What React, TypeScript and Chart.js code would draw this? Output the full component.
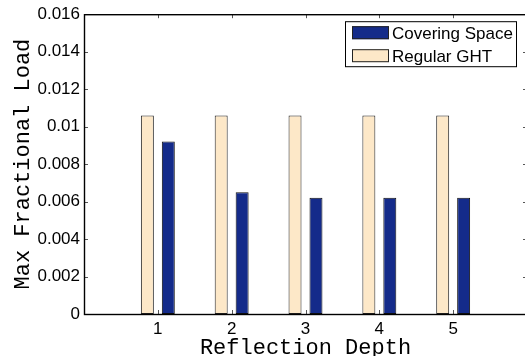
import React, { useEffect, useRef } from 'react';
import { Chart, registerables } from 'chart.js';

Chart.register(...registerables);

const categories = ['1', '2', '3', '4', '5'];
const regularGHT = [0.0106, 0.0106, 0.0106, 0.0106, 0.0106];
const coveringSpace = [0.0092, 0.0065, 0.0062, 0.0062, 0.0062];
const yTicks = [0, 0.002, 0.004, 0.006, 0.008, 0.01, 0.012, 0.014, 0.016];
const yTickLabels = ['0', '0.002', '0.004', '0.006', '0.008', '0.01', '0.012', '0.014', '0.016'];
const seriesNames = ['Regular GHT', 'Covering Space'];
const seriesColors = ['#FDE8C8', '#142B8A'];
const xTitle = 'Reflection Depth';
const yTitle = 'Max Fractional Load';

const tickFont = { family: '"Liberation Sans", Arial, sans-serif', size: 17 };
const titleFont = { family: '"Liberation Mono", "Courier New", monospace', size: 22 };

const framePlugin = {
  id: 'matlabFrame',
  afterDraw(chart: any) {
    const { ctx, chartArea: a, scales } = chart;
    ctx.save();
    const line = (x1: number, y1: number, x2: number, y2: number) => {
      ctx.beginPath();
      ctx.moveTo(x1, y1);
      ctx.lineTo(x2, y2);
      ctx.stroke();
    };
    // inward ticks
    ctx.strokeStyle = '#555';
    ctx.lineWidth = 1;
    const tl = 4;
    categories.forEach((_c, i) => {
      const x = Math.round(scales.x.getPixelForValue(i + 1)) + 0.5;
      line(x, a.bottom, x, a.bottom - tl);
      line(x, a.top, x, a.top + tl);
    });
    yTicks.forEach((v) => {
      const y = Math.round(scales.y.getPixelForValue(v)) + 0.5;
      line(a.left, y, a.left + tl, y);
      line(a.right, y, a.right - tl, y);
    });
    // axes box
    ctx.strokeStyle = '#000';
    ctx.lineWidth = 1.4;
    ctx.strokeRect(a.left + 0.5, a.top + 0.5, a.right - a.left, a.bottom - a.top);

    // legend
    ctx.lineWidth = 1;
    const lx = a.right - 182;
    const ly = a.top + 7;
    const lw = 171;
    const lh = 45;
    ctx.fillStyle = '#fff';
    ctx.fillRect(lx, ly, lw, lh);
    ctx.strokeStyle = '#000';
    ctx.strokeRect(lx + 0.5, ly + 0.5, lw, lh);
    const items = [
      { label: seriesNames[1], color: seriesColors[1] },
      { label: seriesNames[0], color: seriesColors[0] },
    ];
    ctx.font = `${tickFont.size}px ${tickFont.family}`;
    ctx.textBaseline = 'alphabetic';
    ctx.textAlign = 'left';
    items.forEach((it, i) => {
      const py = ly + 5 + i * 23;
      ctx.fillStyle = it.color;
      ctx.fillRect(lx + 7, py, 37, 13);
      ctx.strokeStyle = '#222';
      ctx.strokeRect(lx + 7.5, py + 0.5, 36, 12);
      ctx.fillStyle = '#000';
      ctx.fillText(it.label, lx + 47, py + 13);
    });
    ctx.restore();
  },
};

export default function App() {
  const ref = useRef<HTMLCanvasElement>(null);
  useEffect(() => {
    const chart = new Chart(ref.current as HTMLCanvasElement, {
      type: 'bar',
      data: {
        labels: ['', ...categories, ''],
        datasets: [
          {
            label: seriesNames[0],
            data: [null, ...regularGHT, null],
            backgroundColor: seriesColors[0],
            borderColor: '#222',
            borderWidth: 1,
            borderSkipped: false,
          },
          {
            label: seriesNames[1],
            data: [null, ...coveringSpace, null],
            backgroundColor: seriesColors[1],
            borderColor: '#111',
            borderWidth: 1,
            borderSkipped: false,
          },
        ],
      },
      options: {
        responsive: false,
        animation: false,
        devicePixelRatio: 1,
        categoryPercentage: 42 / 74,
        barPercentage: 13 / 21,
        layout: { padding: { top: 14, right: 4, bottom: 0, left: 0 } },
        plugins: {
          legend: { display: false },
          tooltip: { enabled: false },
        },
        scales: {
          x: {
            type: 'category',
            offset: false,
            grid: { display: false, drawTicks: false },
            border: { display: false },
            ticks: { font: tickFont, color: '#000', padding: 5, maxRotation: 0, autoSkip: false },
            title: {
              display: true,
              text: xTitle,
              font: titleFont,
              color: '#000',
              padding: { top: 0, bottom: -5 },
            },
            afterFit: (s: any) => {
              s.height = 42;
            },
          },
          y: {
            min: 0,
            max: 0.016,
            afterBuildTicks: (s: any) => {
              s.ticks = yTicks.map((v) => ({ value: v }));
            },
            grid: { display: false, drawTicks: false },
            border: { display: false },
            ticks: {
              font: tickFont,
              color: '#000',
              padding: 4,
              callback: (_v: any, i: number) => yTickLabels[i],
            },
            title: {
              display: true,
              text: yTitle,
              font: titleFont,
              color: '#000',
              padding: { top: 10, bottom: 0 },
            },
            afterFit: (s: any) => {
              s.width = 84;
            },
          },
        },
      },
      plugins: [framePlugin],
    } as any);
    return () => chart.destroy();
  }, []);
  return (
    <div
      style={{
        position: 'absolute',
        left: 0,
        top: 0,
        width: 525,
        height: 356,
        overflow: 'hidden',
        background: '#fff',
      }}
    >
      <canvas ref={ref} width={532} height={356} style={{ display: 'block', width: 532, height: 356 }} />
    </div>
  );
}
